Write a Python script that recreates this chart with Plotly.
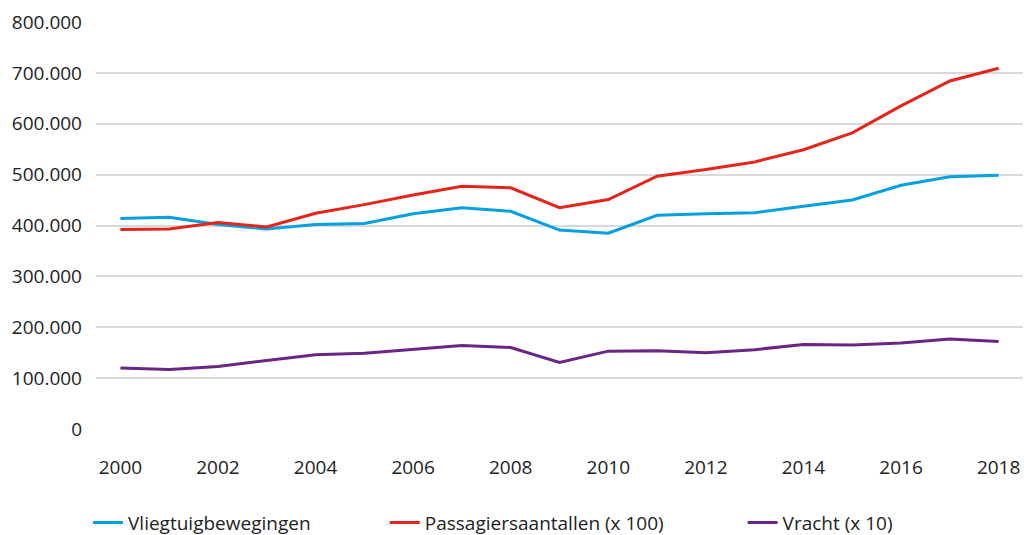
import plotly.graph_objects as go

years = list(range(2000, 2019))
vliegtuig = [414000, 416000, 402000, 393000, 402000, 404000, 423000, 435000, 428000, 391000,
             385000, 420000, 423000, 425000, 438000, 450000, 479000, 496000, 499000]
passagiers = [392000, 393000, 406000, 397000, 424000, 441000, 460000, 477000, 474000, 435000,
              451000, 497000, 510000, 525000, 549000, 582000, 635000, 684000, 709000]
vracht = [120000, 117000, 123000, 135000, 146000, 149000, 156000, 164000, 160000, 131000,
          153000, 154000, 150000, 156000, 166000, 165000, 169000, 177000, 172000]
names = ["Vliegtuigbewegingen", "Passagiersaantallen (x 100)", "Vracht (x 10)"]
colors = ["#05a0e0", "#e3251b", "#6b2585"]
series = [vliegtuig, passagiers, vracht]
xticks = list(range(2000, 2019, 2))
yticks = list(range(0, 800001, 100000))

FONT = "Open Sans, Noto Sans, sans-serif"
FS = 19
fig = go.Figure()
legend_ids = ["legend", "legend2", "legend3"]
legend_x = [-0.0086, 0.3115, 0.6975]
for name, col, vals, lid in zip(names, colors, series, legend_ids):
    fig.add_trace(go.Scatter(x=years, y=vals, mode="lines", name=name,
                             line=dict(color=col, width=3), legend=lid))

leg_common = dict(orientation="h", yanchor="middle", xanchor="left",
                  font=dict(family=FONT, size=FS, color="#222"), bgcolor="rgba(0,0,0,0)",
                  itemwidth=30)
layout_legends = {}
for lid, lx in zip(legend_ids, legend_x):
    layout_legends[lid] = dict(leg_common, x=lx, y=-0.23, xref="paper", yref="paper")

fig.update_layout(
    width=1024, height=535,
    margin=dict(l=96, r=1, t=22, b=106, autoexpand=False),
    paper_bgcolor="white", plot_bgcolor="white",
    separators=",.",
    showlegend=True,
    font=dict(family=FONT, size=FS, color="#222"),
    xaxis=dict(range=[1999.5, 2018.5], tickvals=xticks, showgrid=False, zeroline=False,
               showline=False, ticks="", ticklabelstandoff=25, automargin=False,
               tickfont=dict(family=FONT, size=FS, color="#222")),
    yaxis=dict(range=[0, 800000], tickvals=yticks, tickformat=",d", showgrid=True,
               gridcolor="#d9d9d9", gridwidth=1.5, zeroline=False, showline=False,
               ticks="", ticklabelstandoff=13, automargin=False,
               tickfont=dict(family=FONT, size=FS, color="#222")),
    **layout_legends,
)
fig.write_html("out.html", config={"displayModeBar": False},
               post_script="document.body.style.margin='0';")
